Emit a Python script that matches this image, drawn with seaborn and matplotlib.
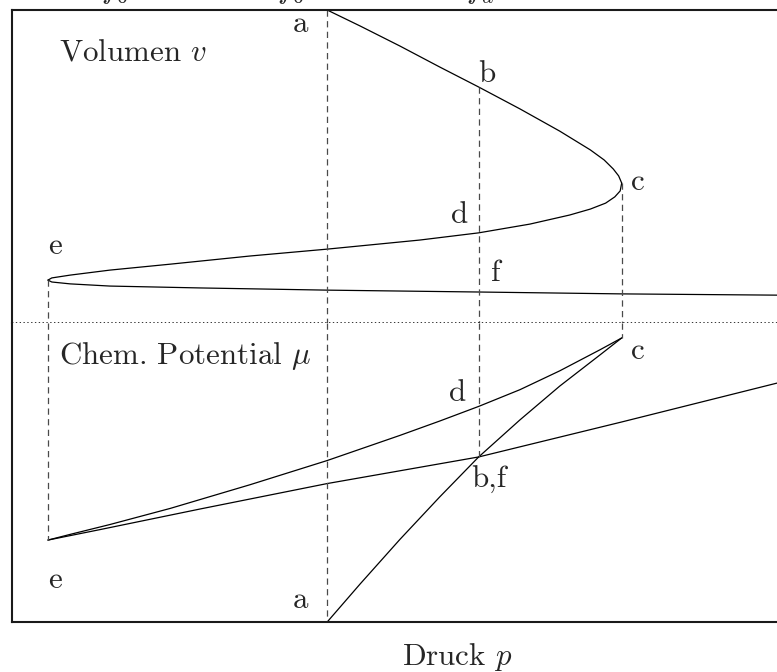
import matplotlib
matplotlib.use("Agg")
import matplotlib.pyplot as plt
import seaborn as sns
import pandas as pd

# --- volume branches v(p) ---
p_ac = [0.412, 0.455, 0.507, 0.559, 0.610, 0.664, 0.716, 0.756, 0.774, 0.786, 0.793, 0.797]
v_ac = [1.000, 0.949, 0.885, 0.818, 0.754, 0.684, 0.613, 0.553, 0.521, 0.492, 0.470, 0.447]

p_ce = [0.797, 0.795, 0.788, 0.776, 0.756, 0.729, 0.677, 0.610, 0.533, 0.412, 0.311, 0.207, 0.128, 0.076, 0.052, 0.047]
v_ce = [0.447, 0.422, 0.403, 0.383, 0.364, 0.345, 0.316, 0.288, 0.265, 0.236, 0.214, 0.188, 0.169, 0.153, 0.144, 0.137]

p_ef = [0.047, 0.052, 0.076, 0.128, 0.246, 0.412, 0.610, 0.797, 1.000]
v_ef = [0.137, 0.131, 0.125, 0.118, 0.112, 0.105, 0.099, 0.093, 0.089]

# --- chemical potential branches mu(p) ---
p_mac = [0.412, 0.455, 0.507, 0.559, 0.610, 0.664, 0.716, 0.769, 0.797]
mu_ac = [0.000, 0.127, 0.276, 0.418, 0.552, 0.676, 0.789, 0.894, 0.950]

p_mce = [0.797, 0.769, 0.716, 0.664, 0.610, 0.559, 0.507, 0.412, 0.311, 0.207, 0.128, 0.076, 0.047]
mu_ce = [0.950, 0.911, 0.840, 0.777, 0.721, 0.672, 0.624, 0.540, 0.459, 0.380, 0.326, 0.293, 0.274]

p_mef = [0.047, 0.115, 0.246, 0.412, 0.610, 0.797, 1.000]
mu_ef = [0.274, 0.309, 0.378, 0.463, 0.552, 0.669, 0.799]

# marked pressures: e, a, b/d/f, c
p_e, p_a, p_b, p_c = 0.047, 0.412, 0.610, 0.797
v_e, v_b, v_c = 0.137, 0.754, 0.447
mu_e, mu_b, mu_c = 0.274, 0.552, 0.950

top_ticks = ["$f_0$", "$f_0$", "$f_a$"]
top_tick_x = [0.148, 0.374, 0.618]

sns.set_theme(style="white")
plt.rcParams["font.family"] = ["cmr10", "DejaVu Serif"]
plt.rcParams["mathtext.fontset"] = "cm"
plt.rcParams["axes.unicode_minus"] = False
plt.rcParams["axes.formatter.use_mathtext"] = True

W, H = 777, 672
fig = plt.figure(figsize=(W / 100, H / 100), dpi=100)

left = 12 / W
width = (W - 12) / W
ax_v = fig.add_axes([left, (H - 323) / H, width, 313 / H])
ax_m = fig.add_axes([left, (H - 622) / H, width, 299 / H])

LW = 0.9
DASH = dict(color="#4a4a4a", lw=0.9, linestyle=(0, (5, 3.5)))
FS = 22.3

def curve(ax, xs, ys):
    df = pd.DataFrame({"p": xs, "y": ys})
    sns.lineplot(data=df, x="p", y="y", sort=False, estimator=None,
                 color="black", lw=LW, ax=ax)

for xs, ys in [(p_ac, v_ac), (p_ce, v_ce), (p_ef, v_ef)]:
    curve(ax_v, xs, ys)
for xs, ys in [(p_mac, mu_ac), (p_mce, mu_ce), (p_mef, mu_ef)]:
    curve(ax_m, xs, ys)

# dashed guides
ax_v.plot([p_e, p_e], [v_e, 0], **DASH)
ax_v.plot([p_a, p_a], [1, 0], **DASH)
ax_v.plot([p_b, p_b], [v_b, 0], **DASH)
ax_v.plot([p_c, p_c], [v_c, 0], **DASH)
ax_m.plot([p_e, p_e], [1, mu_e], **DASH)
ax_m.plot([p_a, p_a], [1, 0], **DASH)
ax_m.plot([p_b, p_b], [1, mu_b], **DASH)
ax_m.plot([p_c, p_c], [1, mu_c], **DASH)

for ax in (ax_v, ax_m):
    ax.set_xlim(0, 1)
    ax.set_ylim(0, 1)
    ax.set_xticks([])
    ax.set_yticks([])
    ax.set_xlabel("")
    ax.set_ylabel("")
    ax.spines["right"].set_visible(False)
    for s in ("left", "top", "bottom"):
        ax.spines[s].set_color("#1a1a1a")
        ax.spines[s].set_linewidth(1.5)

# dotted separator between the two panels
ax_v.spines["bottom"].set_visible(False)
ax_m.spines["top"].set_visible(False)
ax_v.axhline(0, color="black", lw=1.1, linestyle=(0, (0.9, 1.6)), clip_on=False)

def lab(ax, x, y, s):
    ax.text(x, y, s, fontsize=FS, ha="center", va="center")

# upper panel labels
lab(ax_v, 0.377, 0.955, "a")
lab(ax_v, 0.620, 0.795, "b")
lab(ax_v, 0.818, 0.450, "c")
lab(ax_v, 0.585, 0.345, "d")
lab(ax_v, 0.056, 0.245, "e")
lab(ax_v, 0.632, 0.160, "f")
ax_v.text(0.061, 0.865, "Volumen $v$", fontsize=FS, ha="left", va="center")

# lower panel labels
lab(ax_m, 0.377, 0.075, "a")
lab(ax_m, 0.623, 0.475, "b,f")
lab(ax_m, 0.818, 0.905, "c")
lab(ax_m, 0.583, 0.765, "d")
lab(ax_m, 0.056, 0.140, "e")
ax_m.text(0.061, 0.890, "Chem. Potential $\\mu$", fontsize=FS, ha="left", va="center")

fig.text(457 / W, 1 - 657 / H, "Druck $p$", fontsize=FS, ha="center", va="center")

# axis annotations along the upper edge
for x, s in zip(top_tick_x, top_ticks):
    fig.text(x, 1.0 + 2 / H, s, fontsize=FS, ha="center", va="baseline")

fig.savefig("out.png", dpi=100)
